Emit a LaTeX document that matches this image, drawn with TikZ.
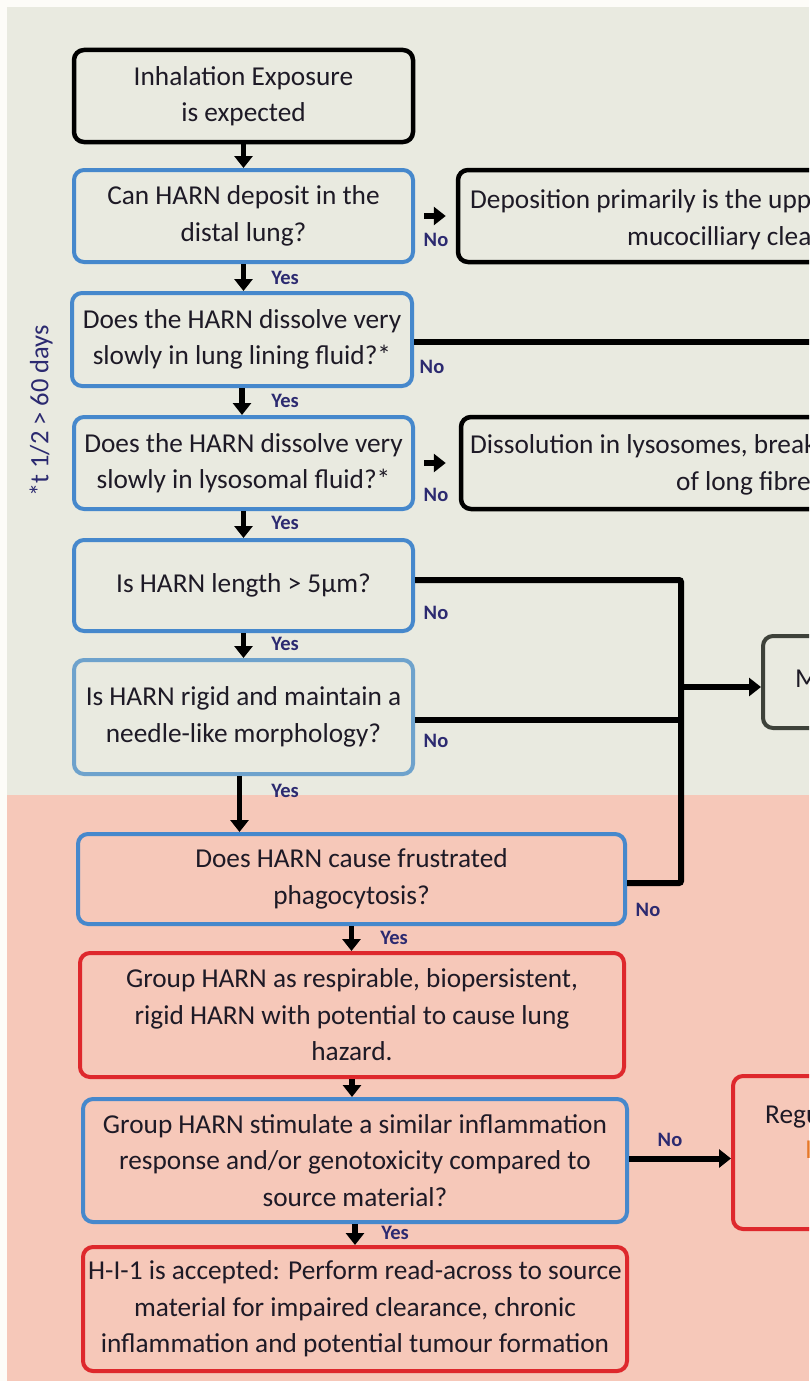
\documentclass[tikz,border=0pt]{standalone}
\usepackage{fontspec}
\setmainfont{Carlito}
\usetikzlibrary{arrows.meta}
\definecolor{pagebg}{RGB}{253,252,248}
\definecolor{upperbg}{RGB}{233,234,224}
\definecolor{lowerbg}{RGB}{246,200,185}
\definecolor{qblue}{RGB}{70,136,204}
\definecolor{qlight}{RGB}{110,162,204}
\definecolor{hred}{RGB}{222,40,44}
\definecolor{mgrey}{RGB}{62,66,58}
\definecolor{ink}{RGB}{30,26,38}
\definecolor{labink}{RGB}{44,42,112}
\definecolor{orng}{RGB}{230,120,40}
\begin{document}
\begin{tikzpicture}[x=1pt,y=-1pt,
  box/.style={draw, rounded corners=10pt, line width=4pt, align=center,
    inner sep=0pt, text=ink, font=\fontsize{27.3}{36.5}\selectfont},
  qbox/.style={box, draw=qblue},
  kbox/.style={box, draw=black, line width=4.5pt},
  rbox/.style={box, draw=hred},
  cut/.style={text=ink, anchor=base west, inner sep=0pt, font=\fontsize{27.3}{36.5}\selectfont},
  lab/.style={text=labink, inner sep=0pt, font=\fontsize{20.5}{22}\bfseries\selectfont},
  arr/.style={line width=5.5pt, -{Triangle[width=18pt,length=12pt]}},
  link/.style={line width=6pt},
]
\useasboundingbox (0,0) rectangle (809,1381);
\begin{scope}
\clip (0,0) rectangle (809,1381);
% background bands
\fill[pagebg] (0,0) rectangle (809,1381);
\fill[upperbg] (7,7) rectangle (809,795);
\fill[lowerbg] (7,795) rectangle (809,1381);

% side note
\node[rotate=90, text=labink, font=\fontsize{26.5}{28}\selectfont] (note) at (41,411) {*t 1/2 > 60 days};

% main column
\node[kbox, minimum width=339pt, minimum height=92pt] (b1) at (243.5,96) {Inhalation Exposure\\is expected};
\node[qbox, minimum width=339pt, minimum height=92pt] (b2) at (243.5,216) {Can HARN deposit in the\\distal lung?};
\node[qbox, minimum width=340pt, minimum height=93pt] (b3) at (242,339.5) {Does the HARN dissolve very\\slowly in lung lining fluid?*};
\node[qbox, minimum width=339pt, minimum height=92pt] (b4) at (243.5,463) {Does the HARN dissolve very\\slowly in lysosomal fluid?*};
\node[qbox, minimum width=339pt, minimum height=91pt] (b5) at (243.5,585.5) {Is HARN length > 5µm?};
\node[box, draw=qlight, minimum width=339pt, minimum height=114pt] (b6) at (243.5,717) {Is HARN rigid and maintain a\\needle-like morphology?};
\node[qbox, minimum width=547pt, minimum height=90pt] (b7) at (351.5,879) {Does HARN cause frustrated\\phagocytosis?};
\node[rbox, minimum width=544pt, minimum height=124pt] (b8) at (352,1015) {Group HARN as respirable, biopersistent,\\rigid HARN with potential to cause lung\\hazard.};
\node[qbox, minimum width=544pt, minimum height=123pt] (b9) at (355,1160.5) {Group HARN stimulate a similar inflammation\\response and/or genotoxicity compared to\\source material?};
\node[rbox, minimum width=544pt, minimum height=124pt] (b10) at (355,1309) {H-I-1 is accepted: Perform read-across to source\\material for impaired clearance, chronic\\inflammation and potential tumour formation};

% outcome boxes running off to the right
\node[kbox, minimum width=742pt, minimum height=92pt] (bA) at (829,216) {};
\node[cut] (tA1) at (470,208) {Deposition primarily is the upp};
\node[cut] (tA2) at (627,245) {mucocilliary clea};
\node[kbox, minimum width=740pt, minimum height=92pt] (bB) at (831,463) {};
\node[cut] (tB1) at (470,453) {Dissolution in lysosomes, break};
\node[cut] (tB2) at (676,490) {of long fibre};
\node[box, draw=mgrey, minimum width=500pt, minimum height=92pt] (bM) at (1013,682) {};
\node[cut] (tM) at (795,687) {M};
\node[rbox, minimum width=500pt, minimum height=153pt] (bC) at (983,1152.5) {};
\node[cut] (tC1) at (765,1123) {Regu};
\node[cut, text=orng] (tC2) at (805,1158) {I};

% yes branches
\draw[arr] (b1.south) -- (b1.south |- b2.north);
\draw[arr] (b2.south) -- (b2.south |- b3.north);
\draw[arr] (b3.south) -- (b3.south |- b4.north);
\draw[arr] (b4.south) -- (b4.south |- b5.north);
\draw[arr] (b5.south) -- (b5.south |- b6.north);
\draw[arr] ([xshift=-4pt]b6.south) -- ([xshift=-4pt]b6.south |- b7.north);
\draw[arr] (b7.south) -- (b7.south |- b8.north);
\draw[arr] (b8.south) -- (b8.south |- b9.north);
\draw[arr] (b9.south) -- (b9.south |- b10.north);

% no branches
\draw[arr, shorten <=9pt, shorten >=10pt] (b2) -- (bA);
\draw[arr, shorten <=9pt, shorten >=13pt] (b4) -- (bB);
\coordinate (edge3) at (830,342);
\draw[link] ([yshift=-2.5pt]b3.east) -- (edge3);
\coordinate (jb) at (681,883);
\draw[link, rounded corners=2pt] ([yshift=5.5pt]b5.east) -| (jb) -- ([yshift=-4pt]b7.east);
\draw[link] ([yshift=-3pt]b6.east) -- ([yshift=-3pt]b6.east -| jb);
\draw[arr, line width=6pt] ([yshift=-5pt]jb |- bM.west) -- ([yshift=-5pt]bM.west);
\draw[arr, line width=6pt] ([yshift=2pt]b9.east) -- ([yshift=2pt]b9.east -| bC.west);

% branch labels
\node[lab] (y2) at (285,278) {Yes};
\node[lab] (y3) at (285,401) {Yes};
\node[lab] (y4) at (285,523) {Yes};
\node[lab] (y5) at (285,644) {Yes};
\node[lab] (y6) at (285,791) {Yes};
\node[lab] (y7) at (394,938) {Yes};
\node[lab] (y9) at (395,1233) {Yes};
\node[lab] (n2) at (436,240) {No};
\node[lab] (n3) at (432,367) {No};
\node[lab] (n4) at (436,495) {No};
\node[lab] (n5) at (436,613) {No};
\node[lab] (n6) at (436,741) {No};
\node[lab] (n7) at (648,910) {No};
\node[lab] (n9) at (670,1140) {No};
\end{scope}
\end{tikzpicture}
\end{document}
